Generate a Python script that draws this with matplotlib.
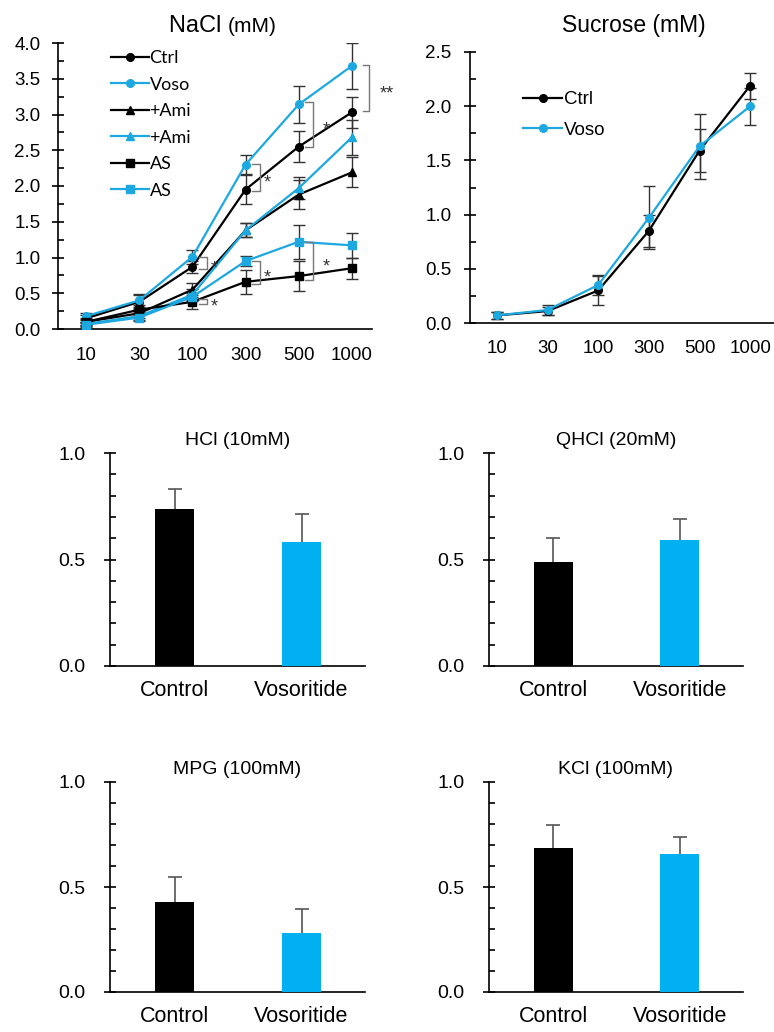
import numpy as np
import matplotlib
matplotlib.use('Agg')
import matplotlib.pyplot as plt
from matplotlib.ticker import MultipleLocator

plt.rcParams['font.family'] = ['Liberation Sans', 'DejaVu Sans']

BLACK = '#000000'
CYAN_LINE = '#1DA8E0'
CYAN_BAR = '#00B0F0'
ERR_C = '#333333'

conc = ['10', '30', '100', '300', '500', '1000']

# NaCl curves (mean, sem)
nacl_ctrl = [0.15, 0.38, 0.87, 1.95, 2.55, 3.03]
nacl_ctrl_err = [0.05, 0.10, 0.08, 0.20, 0.22, 0.22]
nacl_voso = [0.18, 0.40, 1.01, 2.30, 3.14, 3.68]
nacl_voso_err = [0.05, 0.09, 0.10, 0.13, 0.26, 0.32]
nacl_ami_ctrl = [0.10, 0.22, 0.55, 1.38, 1.88, 2.19]
nacl_ami_ctrl_err = [0.04, 0.07, 0.10, 0.10, 0.20, 0.21]
nacl_ami_voso = [0.07, 0.18, 0.48, 1.38, 1.97, 2.68]
nacl_ami_voso_err = [0.03, 0.06, 0.08, 0.10, 0.15, 0.25]
nacl_as_ctrl = [0.10, 0.27, 0.38, 0.66, 0.74, 0.85]
nacl_as_ctrl_err = [0.05, 0.07, 0.10, 0.17, 0.21, 0.15]
nacl_as_voso = [0.06, 0.16, 0.45, 0.95, 1.22, 1.17]
nacl_as_voso_err = [0.03, 0.05, 0.06, 0.07, 0.24, 0.17]

# significance brackets: (index, low, high, label)
nacl_sig = [(2, 0.84, 1.01, '*'), (2, 0.35, 0.42, '*'),
            (3, 1.93, 2.31, '*'), (3, 0.63, 0.95, '*'),
            (4, 2.55, 3.17, '*'), (4, 0.69, 1.22, '*'),
            (5, 3.05, 3.69, '**')]

# Sucrose curves
suc_ctrl = [0.07, 0.11, 0.30, 0.85, 1.59, 2.19]
suc_ctrl_err = [0.03, 0.04, 0.13, 0.15, 0.20, 0.12]
suc_voso = [0.07, 0.12, 0.35, 0.97, 1.63, 2.00]
suc_voso_err = [0.03, 0.05, 0.09, 0.29, 0.30, 0.17]

# bar panels
groups = ['Control', 'Vosoritide']
hcl_mean = [0.737, 0.580]
hcl_err = [0.093, 0.133]
qhcl_mean = [0.487, 0.592]
qhcl_err = [0.116, 0.097]
mpg_mean = [0.427, 0.280]
mpg_err = [0.119, 0.114]
kcl_mean = [0.688, 0.657]
kcl_err = [0.106, 0.082]

W, H = 774, 1032


def px_axes(fig, left, right, bottom, top):
    return fig.add_axes([left / W, 1 - bottom / H, (right - left) / W, (bottom - top) / H])


def style_axes(ax, ymax, major, minor, ylabsize, ypad, xlabsize, xpad):
    ax.set_ylim(0, ymax)
    for s in ['top', 'right']:
        ax.spines[s].set_visible(False)
    for s in ['left', 'bottom']:
        ax.spines[s].set_linewidth(1.2)
    ax.yaxis.set_major_locator(MultipleLocator(major))
    ax.yaxis.set_minor_locator(MultipleLocator(minor))
    ax.yaxis.set_major_formatter(plt.FormatStrFormatter('%.1f'))
    ax.tick_params(axis='y', which='major', direction='inout', length=9, width=1.2,
                   labelsize=ylabsize, pad=ypad)
    ax.tick_params(axis='y', which='minor', direction='in', length=4, width=1.2)
    ax.tick_params(axis='x', length=0, labelsize=xlabsize, pad=xpad)


def curve(ax, vals, errs, color, marker, ms, label):
    x = np.arange(len(vals))
    ax.errorbar(x, vals, yerr=errs, fmt='none', ecolor=ERR_C, elinewidth=1, capsize=4.5, capthick=1, zorder=2)
    ax.plot(x, vals, color=color, marker=marker, ms=ms, lw=1.6, label=label, zorder=3)


fig = plt.figure(figsize=(W / 100, H / 100), dpi=100)

# ---- NaCl ----
ax = px_axes(fig, 58, 372, 329, 43)
curve(ax, nacl_ctrl, nacl_ctrl_err, BLACK, 'o', 5.5, 'Ctrl')
curve(ax, nacl_voso, nacl_voso_err, CYAN_LINE, 'o', 5.5, 'Voso')
curve(ax, nacl_ami_ctrl, nacl_ami_ctrl_err, BLACK, '^', 5.5, '+Ami')
curve(ax, nacl_ami_voso, nacl_ami_voso_err, CYAN_LINE, '^', 5.5, '+Ami')
curve(ax, nacl_as_ctrl, nacl_as_ctrl_err, BLACK, 's', 6, 'AS')
curve(ax, nacl_as_voso, nacl_as_voso_err, CYAN_LINE, 's', 6, 'AS')
ax.set_xlim(-0.53, 5.38)
ax.set_xticks(range(len(conc)))
ax.set_xticklabels(conc)
style_axes(ax, 4.0, 0.5, 0.25, 13.5, 8, 13.5, 13)
for i, lo, hi, lab in nacl_sig:
    x1, x2 = (i + 0.21, i + 0.33) if lab == '**' else (i + 0.12, i + 0.27)
    ax.plot([x1, x2, x2, x1], [hi, hi, lo, lo], color='#777777', lw=1, clip_on=False, zorder=4)
    sx = x2 + (0.33 if lab == '**' else (0.24 if i == 4 else 0.14))
    ax.annotate(lab, (sx, (lo + hi) / 2), xytext=(0, -7.5), textcoords='offset points',
                ha='center', va='baseline', fontsize=13, color='#333333', annotation_clip=False)
ax.legend(loc='upper left', bbox_to_anchor=(0.168, 0.975), frameon=False, handlelength=2.1,
          handletextpad=0.05, labelspacing=0.58, borderpad=0, borderaxespad=0,
          prop={'family': 'Lato', 'size': 13})
ax.text(0.54, 1.038, 'NaCl ', transform=ax.transAxes, ha='right', va='baseline', fontsize=17)
ax.text(0.54, 1.038, '(mM)', transform=ax.transAxes, ha='left', va='baseline', fontsize=15)

# ---- Sucrose ----
ax = px_axes(fig, 470, 774, 323, 52)
curve(ax, suc_ctrl, suc_ctrl_err, BLACK, 'o', 5.5, 'Ctrl')
curve(ax, suc_voso, suc_voso_err, CYAN_LINE, 'o', 5.5, 'Voso')
ax.set_xlim(-0.53, 5.47)
ax.set_xticks(range(len(conc)))
ax.set_xticklabels(conc)
style_axes(ax, 2.5, 0.5, 0.25, 13.5, 9, 13.5, 12)
ax.legend(loc='upper left', bbox_to_anchor=(0.174, 0.855), frameon=False, handlelength=2.1,
          handletextpad=0.1, labelspacing=0.72, borderpad=0, borderaxespad=0,
          prop={'size': 13.5})
ax.text(0.54, 1.074, 'Sucrose (mM)', transform=ax.transAxes, ha='center', va='baseline', fontsize=16.5)

# ---- bar panels ----
bar_panels = [
    ('HCl (10mM)', hcl_mean, hcl_err, (110, 365, 666, 453)),
    ('QHCl (20mM)', qhcl_mean, qhcl_err, (489, 743, 666, 453)),
    ('MPG (100mM)', mpg_mean, mpg_err, (110, 365, 992, 782)),
    ('KCl (100mM)', kcl_mean, kcl_err, (489, 743, 992, 782)),
]
for title, means, errs, box in bar_panels:
    ax = px_axes(fig, *box)
    x = np.arange(len(groups))
    ax.bar(x, means, width=0.31, color=[BLACK, CYAN_BAR], zorder=3)
    eb = ax.errorbar(x, means, yerr=[np.zeros(len(errs)), errs], fmt='none', ecolor='#555555',
                     elinewidth=1.2, capsize=5, capthick=1.2, zorder=2)
    eb[1][0].set_visible(False)
    ax.set_xlim(-0.51, 1.5)
    ax.set_xticks(x)
    ax.set_xticklabels(groups)
    style_axes(ax, 1.0, 0.5, 0.1, 14, 13, 15.5, 10)
    ax.set_title(title, fontsize=14, pad=6)

fig.savefig('out.png', dpi=100)
